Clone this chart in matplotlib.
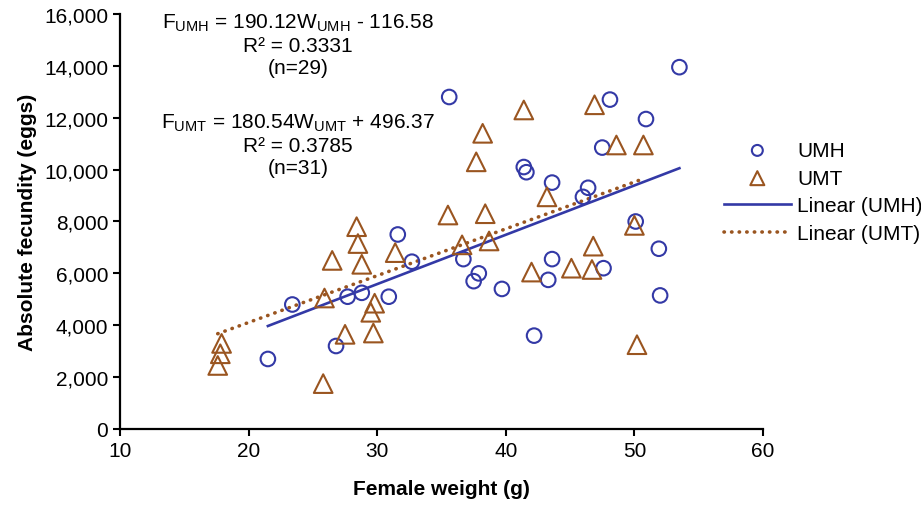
import numpy as np
import matplotlib
matplotlib.use('Agg')
import matplotlib.pyplot as plt
from matplotlib.ticker import FuncFormatter

plt.rcParams['font.family'] = ['Liberation Sans', 'DejaVu Sans']
plt.rcParams['mathtext.fontset'] = 'custom'
plt.rcParams['mathtext.rm'] = 'Liberation Sans'

# UMH (circles)
umh_w = [21.5, 23.4, 26.8, 27.7, 28.8, 30.9, 31.6, 32.7, 36.7, 37.9,
         37.5, 39.7, 42.2, 43.6, 43.3, 47.6, 50.1, 51.9, 52.0, 35.6,
         48.1, 53.5, 50.9, 47.5, 41.4, 41.6, 43.6, 46.4, 46.0]
umh_f = [2700, 4800, 3200, 5100, 5250, 5100, 7500, 6450, 6550, 6000,
         5700, 5400, 3600, 6550, 5750, 6200, 8000, 6950, 5150, 12800,
         12700, 13950, 11950, 10850, 10100, 9900, 9500, 9300, 8950]

# UMT (triangles)
umt_w = [17.6, 17.8, 17.9, 25.8, 25.9, 26.5, 27.5, 28.4, 28.5, 28.8,
         29.8, 29.5, 29.7, 31.4, 35.5, 36.6, 41.4, 38.2, 37.7, 46.9,
         48.6, 50.7, 43.2, 38.4, 50.0, 38.7, 42.0, 45.1, 46.7, 46.8, 50.2]
umt_f = [2450, 2900, 3300, 1750, 5050, 6500, 3650, 7800, 7150, 6350,
         4850, 4500, 3700, 6800, 8250, 7100, 12300, 11400, 10300, 12500,
         10950, 10950, 8950, 8300, 7850, 7250, 6050, 6200, 6150, 7050, 3250]

# fitted trend lines
umh_slope, umh_icpt = 190.12, -116.58
umt_slope, umt_icpt = 180.54, 496.37

blue = '#3339A6'
brown = '#9A5520'
fs = 15

fig = plt.figure(figsize=(9.21, 5.06), dpi=100)
ax = fig.add_axes([120/921, 1-430/506, (763-120)/921, (430-15)/506])

ax.scatter(umh_w, umh_f, marker='o', s=110, facecolors='none', edgecolors=blue,
           linewidths=1.5, label='UMH', zorder=3)
ax.scatter(umt_w, umt_f, marker='^', s=180, facecolors='none', edgecolors=brown,
           linewidths=1.5, label='UMT', zorder=3)

xh = np.array([min(umh_w), max(umh_w)])
ax.plot(xh, umh_slope * xh + umh_icpt, color=blue, lw=1.9, label='Linear (UMH)')
xt = np.array([min(umt_w), max(umt_w)])
ax.plot(xt, umt_slope * xt + umt_icpt, color=brown, lw=2.6, linestyle=(0, (0.1, 2.0)),
        dash_capstyle='round', label='Linear (UMT)')

ax.set_xlim(10, 60)
ax.set_ylim(0, 16000)
ax.set_xticks(range(10, 61, 10))
ax.set_yticks(range(0, 16001, 2000))
ax.yaxis.set_major_formatter(FuncFormatter(lambda v, p: f'{int(v):,}'))
ax.tick_params(labelsize=fs, width=1.5, length=5, direction='out')
for s in ['top', 'right']:
    ax.spines[s].set_visible(False)
for s in ['left', 'bottom']:
    ax.spines[s].set_linewidth(1.6)

ax.set_xlabel('Female weight (g)', fontsize=fs, fontweight='bold', labelpad=14)
ax.set_ylabel('Absolute fecundity (eggs)', fontsize=fs, fontweight='bold', labelpad=5)

txt1 = ('F$_{\\mathregular{UMH}}$ = 190.12W$_{\\mathregular{UMH}}$ - 116.58\n'
        'R² = 0.3331\n(n=29)')
txt2 = ('F$_{\\mathregular{UMT}}$ = 180.54W$_{\\mathregular{UMT}}$ + 496.37\n'
        'R² = 0.3785\n(n=31)')
ax.text(298/921, 1-12/506, txt1, transform=fig.transFigure, ha='center', va='top',
        fontsize=fs, linespacing=1.2)
ax.text(298/921, 1-112/506, txt2, transform=fig.transFigure, ha='center', va='top',
        fontsize=fs, linespacing=1.2)

ax.legend(loc='center left', bbox_to_anchor=(724/921, 1-193/506),
          bbox_transform=fig.transFigure, frameon=False, fontsize=fs,
          handlelength=3.2, labelspacing=0.42, handletextpad=0.3, borderaxespad=0,
          borderpad=0, markerscale=0.75)

fig.savefig('out.png', dpi=100)
